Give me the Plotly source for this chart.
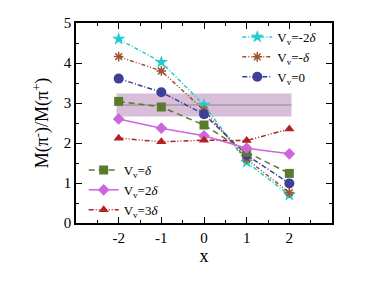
import plotly.graph_objects as go

x_vals = [-2, -1, 0, 1, 2]
m_m2d = [4.60, 4.02, 2.95, 1.52, 0.70]
m_m1d = [4.16, 3.80, 2.82, 1.60, 0.76]
m_0 = [3.61, 3.27, 2.72, 1.70, 0.99]
m_1d = [3.04, 2.90, 2.45, 1.77, 1.24]
m_2d = [2.60, 2.37, 2.18, 1.87, 1.73]
m_3d = [2.12, 2.03, 2.07, 2.06, 2.35]

band_x = [-2.05, 2.05]
band_low = 2.66
band_high = 3.24
band_center = 2.95

FONT = "Liberation Serif, Times New Roman, serif"
fig = go.Figure()

# band
fig.add_trace(go.Scatter(x=band_x, y=[band_low, band_low], mode="lines",
                         line=dict(width=0), showlegend=False, hoverinfo="skip"))
fig.add_trace(go.Scatter(x=band_x, y=[band_high, band_high], mode="lines",
                         line=dict(width=0), fill="tonexty",
                         fillcolor="#d8bed8", showlegend=False, hoverinfo="skip"))
fig.add_trace(go.Scatter(x=band_x, y=[band_center, band_center], mode="lines",
                         line=dict(color="#8a8a8a", width=1.2), showlegend=False, hoverinfo="skip"))

series = [
    ("V<sub>v</sub>=-2<i>δ</i>", m_m2d, "#22cccc", "4px,2px,1px,2px", "star", 10, "legend"),
    ("V<sub>v</sub>=-<i>δ</i>", m_m1d, "#a0522d", "4px,2px,1px,2px,1px,2px", "asterisk-open", 8, "legend"),
    ("V<sub>v</sub>=0", m_0, "#3f3f9a", "5px,2px,1px,2px", "circle", 10, "legend"),
    ("V<sub>v</sub>=<i>δ</i>", m_1d, "#5a7a2e", "6px,4px", "square", 9, "legend2"),
    ("V<sub>v</sub>=2<i>δ</i>", m_2d, "#cc66dd", "solid", "diamond", 9, "legend2"),
    ("V<sub>v</sub>=3<i>δ</i>", m_3d, "#b22222", "5px,2px,1px,2px,1px,2px", "triangle-up", 9, "legend2"),
]
for name, ys, col, dash, sym, sz, lg in series:
    mk = dict(symbol=sym, size=sz, color=col)
    if sym == "asterisk-open":
        mk["line"] = dict(color=col, width=1.5)
    fig.add_trace(go.Scatter(x=x_vals, y=ys, mode="lines+markers", name=name,
                             line=dict(color=col, width=1.5, dash=dash),
                             marker=mk, legend=lg))

axis_common = dict(showline=True, linecolor="black", linewidth=1.5, mirror="ticks",
                   ticks="inside", ticklen=6, tickcolor="black", tickwidth=1,
                   showgrid=False, zeroline=False,
                   tickfont=dict(family=FONT, size=15, color="black"))
fig.update_xaxes(range=[-3, 3], tickvals=[-2, -1, 0, 1, 2], ticktext=["-2", "-1", "0", "1", "2"],
                 minor=dict(ticks="inside", ticklen=3, dtick=0.5, tickcolor="black", showgrid=False),
                 title=dict(text="x", font=dict(family=FONT, size=18, color="black"), standoff=4),
                 **axis_common)
fig.update_yaxes(range=[0, 5], dtick=1,
                 minor=dict(ticks="inside", ticklen=3, dtick=0.5, tickcolor="black", showgrid=False),
                 title=dict(text="M(π<sup>-</sup>)/M(π<sup>+</sup>)", font=dict(family=FONT, size=18, color="black"), standoff=10),
                 **axis_common)

legfont = dict(family=FONT, size=13, color="black")
fig.update_layout(
    width=368, height=287,
    margin=dict(l=76, r=36, t=23, b=64),
    paper_bgcolor="white", plot_bgcolor="white",
    font=dict(family=FONT),
    legend=dict(x=0.63, y=1.005, xanchor="left", yanchor="top", bgcolor="rgba(0,0,0,0)",
                font=legfont, itemwidth=30, tracegroupgap=0, traceorder="normal"),
    legend2=dict(x=0.03, y=-0.01, xanchor="left", yanchor="bottom", bgcolor="rgba(0,0,0,0)",
                 font=legfont, itemwidth=30, tracegroupgap=0, traceorder="normal"),
)
fig.write_html("out.html", config={"displayModeBar": False},
               post_script="document.body.style.margin='0px';")
